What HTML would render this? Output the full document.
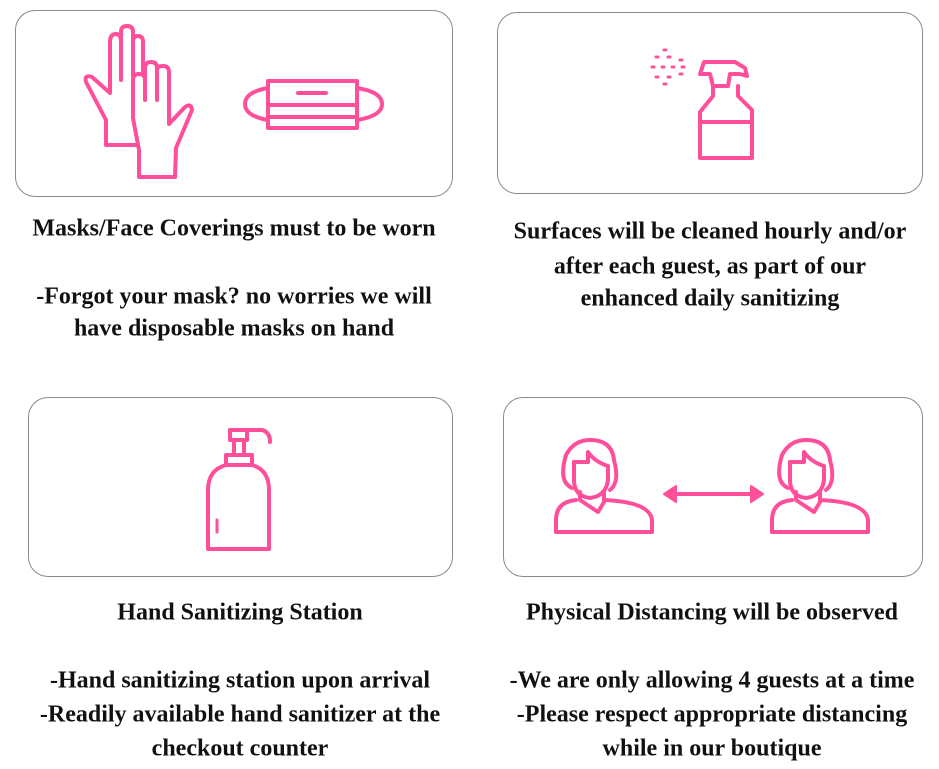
<!DOCTYPE html>
<html><head><meta charset="utf-8"><style>
body{margin:0;width:939px;height:769px;background:#fff;position:relative;overflow:hidden}
.box{position:absolute;border:1.5px solid #8a8a8a;border-radius:20px;box-sizing:border-box}
.t{position:absolute;font-family:"Liberation Serif",serif;font-weight:bold;font-size:24px;color:#111;white-space:nowrap;transform:translate(-50%,-50%)}
svg{position:absolute;left:0;top:0}
</style></head><body>
<div class="box" style="left:15px;top:10px;width:438px;height:187px"></div>
<div class="box" style="left:497px;top:12px;width:426px;height:182px"></div>
<div class="box" style="left:28px;top:397px;width:425px;height:180px"></div>
<div class="box" style="left:503px;top:397px;width:420px;height:180px"></div>
<svg width="939" height="769" fill="none" stroke="#ff4f9a" stroke-width="4" stroke-linejoin="round" stroke-linecap="round">
<path fill="#fff" d="M106 145 L106 120 L86 82 Q84 74 92 77 L110 93 L110 42 Q110 34 116 34 Q121 34 121 42 L121 32 Q121 26 127 26 Q133 26 133 32 L133 42 Q133 36 138 36 Q143 36 143 42 L143 120 L140 145 Z"/>
<path d="M121 42 L121 80 M133 42 L133 76"/>
<path fill="#fff" d="M139 177 L139 150 L133 118 L133 80 Q133 74 139 74 Q145 74 145 80 L145 68 Q145 62 151 62 Q157 62 157 68 L157 70 Q157 66 163 66 Q169 66 169 72 L169 124 L184 108 Q191 102 192 110 L176 148 L175 177 Z"/>
<path d="M145 80 L145 100 M157 70 L157 100"/>
<path d="M268 88 Q245 92 245 104 Q245 116 268 120 M357 88 Q382 92 382 104 Q382 116 357 120"/>
<rect x="268" y="81" width="89" height="47" fill="#fff"/>
<path d="M298 93 L326 93 M268 105 L357 105 M268 117 L357 117"/>
<path d="M700 74 L704 62 L735 62 L745 68 L747 76 L740 74 L730 74 L728 86 L713 86 L710 74 Z M713 86 L713 96 L700 112 L700 158 L752 158 L752 110 L738 96 L738 86 M700 122 L752 122"/>
<g stroke-width="3"><path d="M652 67h2M662 67h2M672 67h2M682 67h2M656 57h2M668 57h2M680 60h2M656 77h2M668 77h2M680 74h2M664 50h2M664 84h2"/></g>
<path d="M230 430 L262 430 Q270 432 270 442 M230 430 L230 440 L247 440 L247 430 M234 440 L234 455 L244 455 L244 440 M226 455 L252 455 L252 465 L226 465 Z M226 465 Q208 470 208 490 L208 549 L269 549 L269 490 Q269 470 252 465"/>
<path d="M217 532 L217 520" stroke-width="3"/>
<g id="p"><path d="M572 488 Q558 482 566 455 Q574 440 590 440 Q612 440 614 460 Q620 482 610 490 M574 462 L588 462 L588 452 Q595 462 608 466 L608 480 Q606 496 590 498 Q574 496 574 480 Z M580 492 L580 500 L598 512 L604 502 L604 492 M576 500 Q556 502 556 520 L556 532 L652 532 L652 520 Q650 502 604 500"/></g>
<use href="#p" x="216"/>
<path d="M667 494 L760 494"/>
<path d="M664 494 L676 486 L676 502 Z M763 494 L751 486 L751 502 Z" fill="#ff4f9a" stroke-width="2"/>
</svg>
<div class="t" style="left:234px;top:229px">Masks/Face Coverings must to be worn</div>
<div class="t" style="left:234px;top:297px">-Forgot your mask? no worries we will</div>
<div class="t" style="left:234px;top:329px">have disposable masks on hand</div>
<div class="t" style="left:710px;top:232px">Surfaces will be cleaned hourly and/or</div>
<div class="t" style="left:710px;top:267px">after each guest, as part of our</div>
<div class="t" style="left:710px;top:299px">enhanced daily sanitizing</div>
<div class="t" style="left:240px;top:613px">Hand Sanitizing Station</div>
<div class="t" style="left:240px;top:681px">-Hand sanitizing station upon arrival</div>
<div class="t" style="left:240px;top:715px">-Readily available hand sanitizer at the</div>
<div class="t" style="left:240px;top:749px">checkout counter</div>
<div class="t" style="left:712px;top:613px">Physical Distancing will be observed</div>
<div class="t" style="left:712px;top:681px">-We are only allowing 4 guests at a time</div>
<div class="t" style="left:712px;top:715px">-Please respect appropriate distancing</div>
<div class="t" style="left:712px;top:749px">while in our boutique</div>
</body></html>
